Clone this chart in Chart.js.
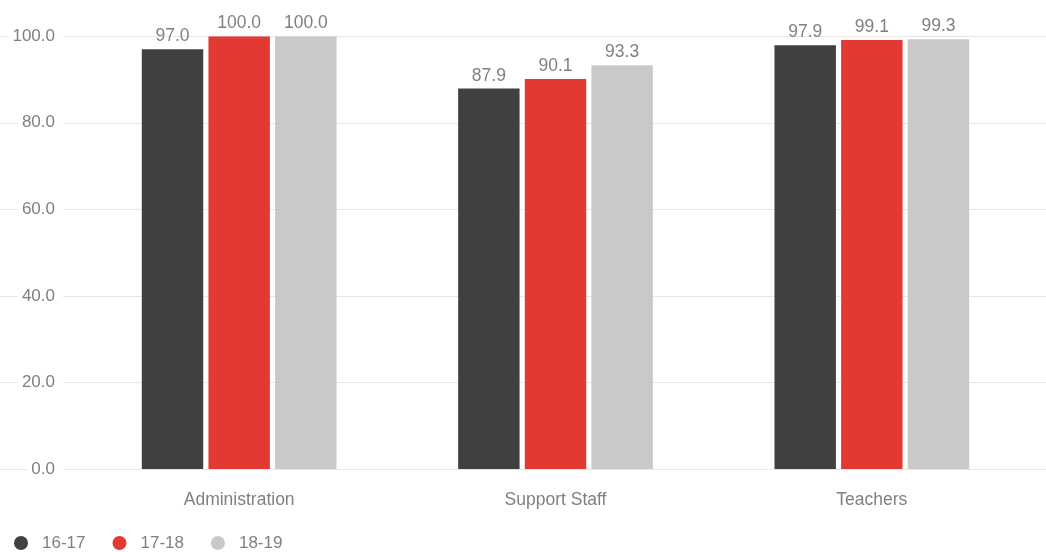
<!DOCTYPE html>
<html>
<head>
<meta charset="utf-8">
<script src="https://cdn.jsdelivr.net/npm/chart.js@4"></script>
<style>
  html, body { margin: 0; padding: 0; background: #fff; }
  #wrap { width: 1046px; height: 552px; }
</style>
</head>
<body>
<div id="wrap"><canvas id="staffChart"></canvas></div>
<script>
const categories = ['Administration', 'Support Staff', 'Teachers'];
const seriesNames = ['16-17', '17-18', '18-19'];
const values1617 = [97.0, 87.9, 97.9];
const values1718 = [100.0, 90.1, 99.1];
const values1819 = [100.0, 93.3, 99.3];
const yTicks = [0, 20, 40, 60, 80, 100];

const colors = ['#404040', '#e23a33', '#c9c9c9'];
const textColor = '#808080';
const gridColor = '#e6e6e6';
const fontFamily = '"Liberation Sans", Arial, sans-serif';

// gridlines run the full width, broken around the tick labels
const gridPlugin = {
    id: 'fullGrid',
    beforeDatasetsDraw(chart) {
        const ctx = chart.ctx;
        const y = chart.scales.y;
        ctx.save();
        ctx.font = '17px ' + fontFamily;
        ctx.strokeStyle = gridColor;
        ctx.lineWidth = 1;
        yTicks.forEach(v => {
            const py = Math.round(y.getPixelForValue(v)) + 0.5;
            const w = ctx.measureText(v.toFixed(1)).width;
            const labelRight = y.right - y.options.ticks.padding;
            ctx.beginPath();
            ctx.moveTo(0, py);
            ctx.lineTo(labelRight - w - 4, py);
            ctx.moveTo(labelRight + 8, py);
            ctx.lineTo(chart.width, py);
            ctx.stroke();
        });
        ctx.restore();
    }
};

const valueLabelPlugin = {
    id: 'valueLabels',
    afterDatasetsDraw(chart) {
        const ctx = chart.ctx;
        ctx.save();
        ctx.font = '17.5px ' + fontFamily;
        ctx.fillStyle = textColor;
        ctx.textAlign = 'center';
        ctx.textBaseline = 'alphabetic';
        chart.data.datasets.forEach((ds, i) => {
            chart.getDatasetMeta(i).data.forEach((bar, j) => {
                ctx.fillText(ds.data[j].toFixed(1), bar.x, bar.y - 8);
            });
        });
        ctx.restore();
    }
};

const legendPlugin = {
    id: 'bottomLegend',
    afterDraw(chart) {
        const ctx = chart.ctx;
        ctx.save();
        ctx.font = '17px ' + fontFamily;
        ctx.textBaseline = 'middle';
        ctx.textAlign = 'left';
        let x = 14;
        const cy = 543;
        chart.data.datasets.forEach(ds => {
            ctx.fillStyle = ds.backgroundColor;
            ctx.beginPath();
            ctx.arc(x + 7, cy, 7, 0, Math.PI * 2);
            ctx.fill();
            ctx.fillStyle = textColor;
            ctx.fillText(ds.label, x + 28, cy);
            x += 28 + ctx.measureText(ds.label).width + 27;
        });
        ctx.restore();
    }
};

const seriesValues = [values1617, values1718, values1819];

new Chart(document.getElementById('staffChart'), {
    type: 'bar',
    data: {
        labels: categories,
        datasets: seriesNames.map((name, i) => ({
            label: name,
            data: seriesValues[i],
            backgroundColor: colors[i],
            borderWidth: 0,
            categoryPercentage: 0.632,
            barPercentage: 0.922
        }))
    },
    options: {
        responsive: true,
        maintainAspectRatio: false,
        animation: false,
        layout: { padding: { left: 0, right: 16, top: 35, bottom: 0 } },
        plugins: {
            legend: { display: false },
            tooltip: { enabled: false }
        },
        scales: {
            x: {
                grid: { display: false, drawTicks: false },
                border: { display: false },
                ticks: {
                    color: textColor,
                    font: { family: fontFamily, size: 17.5 },
                    padding: 21
                },
                afterFit: s => { s.height = 83; }
            },
            y: {
                min: 0,
                max: 100,
                afterBuildTicks: s => { s.ticks = yTicks.map(v => ({ value: v })); },
                grid: { display: false, drawTicks: false },
                border: { display: false },
                ticks: {
                    color: textColor,
                    font: { family: fontFamily, size: 17 },
                    padding: 26,
                    callback: v => Number(v).toFixed(1)
                },
                afterFit: s => { s.width = 81; }
            }
        }
    },
    plugins: [gridPlugin, valueLabelPlugin, legendPlugin]
});
</script>
</body>
</html>
